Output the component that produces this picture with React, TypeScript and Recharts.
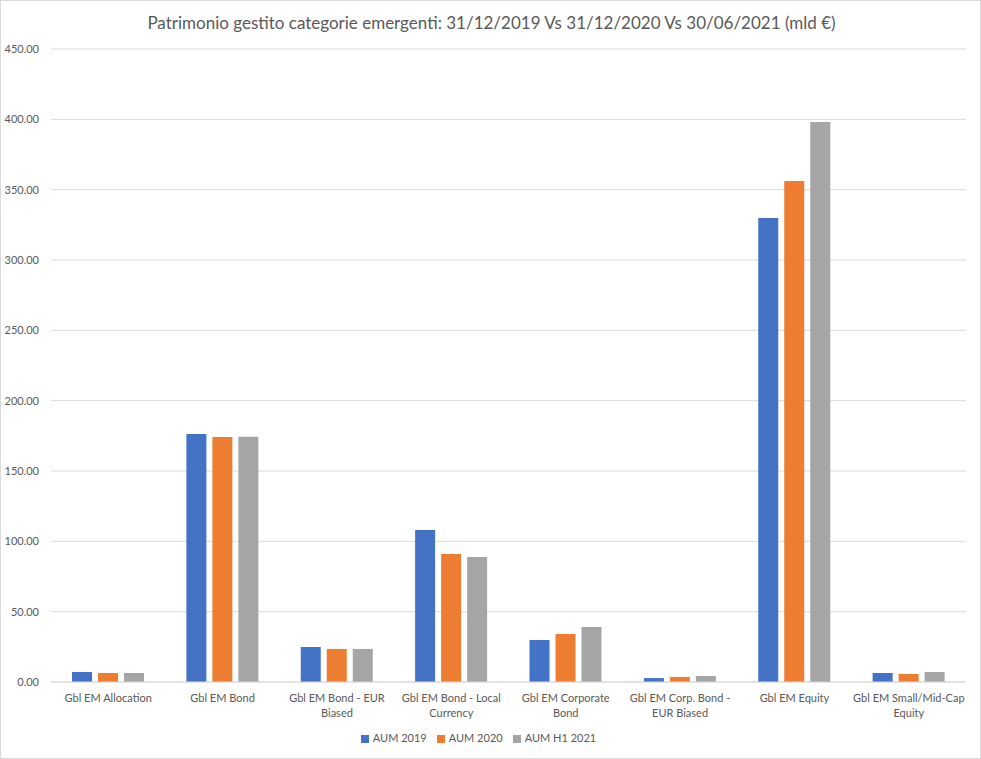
import { Bar, BarChart, CartesianGrid, Legend, XAxis, YAxis } from "recharts";

const categories = [
  "Gbl EM Allocation",
  "Gbl EM Bond",
  "Gbl EM Bond - EUR\nBiased",
  "Gbl EM Bond - Local\nCurrency",
  "Gbl EM Corporate\nBond",
  "Gbl EM Corp. Bond -\nEUR Biased",
  "Gbl EM Equity",
  "Gbl EM Small/Mid-Cap\nEquity",
];

const aum2019 = [7.1, 176.3, 24.9, 108.0, 29.9, 2.8, 329.8, 6.4];
const aum2020 = [6.4, 174.2, 23.5, 91.0, 34.1, 3.6, 356.2, 5.7];
const aumH1 = [6.4, 174.4, 23.5, 88.9, 39.1, 4.3, 398.1, 7.1];

const yTicks = [0, 50, 100, 150, 200, 250, 300, 350, 400, 450];

const data = categories.map((name, i) => ({
  name,
  a2019: aum2019[i],
  a2020: aum2020[i],
  aH1: aumH1[i],
}));

const FONT = "Lato, 'Open Sans', sans-serif";
const TEXT = "#595959";

function CategoryTick(props: any) {
  const { x, y, payload } = props;
  const lines = String(payload.value).split("\n");
  return (
    <text x={x} y={y} textAnchor="middle" fill={TEXT} fontSize={11} fontFamily={FONT}>
      {lines.map((l, i) => (
        <tspan key={i} x={x} dy={i === 0 ? 12 : 15}>
          {l}
        </tspan>
      ))}
    </text>
  );
}

export default function App() {
  return (
    <div
      style={{
        position: "absolute",
        left: 0,
        top: 0,
        width: 981,
        height: 759,
        boxSizing: "border-box",
        border: "1px solid #d9d9d9",
        background: "#fff",
        fontFamily: FONT,
      }}
    >
      <div
        style={{
          position: "absolute",
          top: 11,
          left: 0,
          width: 981,
          textAlign: "center",
          fontSize: 17,
          color: TEXT,
        }}
      >
        Patrimonio gestito categorie emergenti: 31/12/2019 Vs 31/12/2020 Vs 30/06/2021 (mld €)
      </div>
      <BarChart
        width={979}
        height={757}
        data={data}
        margin={{ top: 48, right: 14, left: 0, bottom: 0 }}
        barSize={20}
        barGap={6}
      >
        <CartesianGrid vertical={false} stroke="#d9d9d9" />
        <XAxis
          dataKey="name"
          height={34}
          tickLine={false}
          axisLine={{ stroke: "#d9d9d9" }}
          tick={<CategoryTick />}
          interval={0}
        />
        <YAxis
          width={50}
          domain={[0, 450]}
          ticks={yTicks}
          tickLine={false}
          axisLine={false}
          tickFormatter={(v) => Number(v).toFixed(2)}
          tick={{ fill: TEXT, fontSize: 11, fontFamily: FONT }}
          tickMargin={6}
        />
        <Legend
          verticalAlign="bottom"
          height={32}
          iconType="square"
          iconSize={8}
          wrapperStyle={{
            fontSize: 11,
            fontFamily: FONT,
            color: TEXT,
            paddingTop: 10,
            transform: "translateY(5px)",
          }}
          formatter={(value) => <span style={{ color: TEXT }}>{value}</span>}
        />
        <Bar dataKey="a2019" name="AUM 2019" fill="#4472c4" isAnimationActive={false} />
        <Bar dataKey="a2020" name="AUM 2020" fill="#ed7d31" isAnimationActive={false} />
        <Bar dataKey="aH1" name="AUM H1 2021" fill="#a5a5a5" isAnimationActive={false} />
      </BarChart>
    </div>
  );
}
